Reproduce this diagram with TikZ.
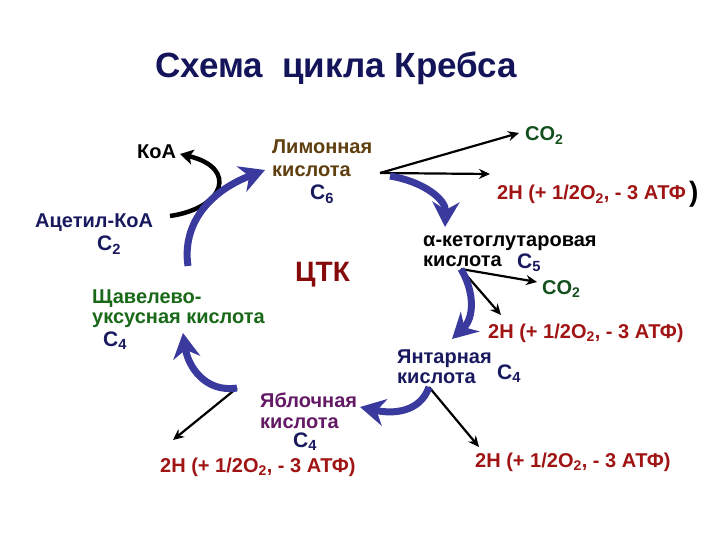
\documentclass[tikz,border=0pt]{standalone}
\usepackage{fontspec}
\setmainfont{Liberation Sans}
\usetikzlibrary{arrows.meta}
\definecolor{titlec}{RGB}{20,20,90}
\definecolor{navyc}{RGB}{25,25,95}
\definecolor{brownc}{RGB}{95,62,15}
\definecolor{greenc}{RGB}{25,105,25}
\definecolor{co2c}{RGB}{20,80,30}
\definecolor{redc}{RGB}{160,20,20}
\definecolor{ctkc}{RGB}{135,10,10}
\definecolor{purplec}{RGB}{100,25,100}
\definecolor{bluec}{RGB}{58,58,158}
\begin{document}
\begin{tikzpicture}[x=1pt,y=-1pt,
  lbl/.style={inner sep=0pt, anchor=base west, font=\bfseries\fontsize{20}{24}\selectfont},
  cl/.style={lbl, text=navyc, font=\bfseries\fontsize{21}{24}\selectfont},
  hh/.style={lbl, text=redc},
  blk/.style={draw=black, line width=2.2pt, -{Stealth[length=11pt,width=10pt]}},
  blkthick/.style={draw=black, line width=4.5pt, -{Stealth[length=13pt,width=15pt,inset=3pt]}},
  cyc/.style={draw=bluec, line width=7pt, -{Stealth[length=25pt,width=27pt,inset=8pt]}}]
\useasboundingbox (0,0) rectangle (720,540);
\fill[white] (0,0) rectangle (720,540);
% title
\node[lbl, text=titlec, font=\bfseries\fontsize{35}{40}\selectfont] (title) at (155,78) {Схема\ \ цикла Кребса};
% left
\node[lbl, text=black] (koa) at (137,159) {КоА};
\node[lbl, text=brownc] (lim1) at (272,154) {Лимонная};
\node[lbl, text=brownc] (lim2) at (272,177) {кислота};
\node[cl] (c6) at (310,200) {C\textsubscript{6}};
\node[lbl, text=navyc] (acet) at (35,228) {Ацетил-КоА};
\node[cl] (c2) at (97,251) {C\textsubscript{2}};
\node[lbl, text=ctkc, font=\bfseries\fontsize{28}{30}\selectfont] (ctk) at (295,281) {ЦТК};
\node[lbl, text=greenc] (sh1) at (92,303) {Щавелево-};
\node[lbl, text=greenc] (sh2) at (92,323) {уксусная кислота};
\node[cl] (c4a) at (103,346) {C\textsubscript{4}};
% right
\node[lbl, text=co2c] (co2a) at (525,141) {CO\textsubscript{2}};
\node[hh] (hA) at (497,200) {2H (+ 1/2O\textsubscript{2}, - 3 АТФ};
\node[lbl, text=black, font=\bfseries\fontsize{28}{30}\selectfont] (par) at (689,202) {)};
\node[lbl, text=black] (kg1) at (423,246) {α-кетоглутаровая};
\node[lbl, text=black] (kg2) at (423,266) {кислота};
\node[cl] (c5) at (517,268) {C\textsubscript{5}};
\node[lbl, text=co2c] (co2b) at (542,294) {CO\textsubscript{2}};
\node[hh] (hB) at (488,338) {2H (+ 1/2O\textsubscript{2}, - 3 АТФ)};
\node[lbl, text=navyc] (ya1) at (397,363) {Янтарная};
\node[lbl, text=navyc] (ya2) at (397,383) {кислота};
\node[cl] (c4b) at (497,379) {C\textsubscript{4}};
% bottom
\node[lbl, text=purplec] (yb1) at (260,407) {Яблочная};
\node[lbl, text=purplec] (yb2) at (260,428) {кислота};
\node[cl] (c4c) at (293,447) {C\textsubscript{4}};
\node[hh] (hC) at (160,472) {2H (+ 1/2O\textsubscript{2}, - 3 АТФ)};
\node[hh] (hD) at (475,467) {2H (+ 1/2O\textsubscript{2}, - 3 АТФ)};
% coordinates
\coordinate (acS) at (170,216);
\coordinate (koaT) at (180,154);
\coordinate (shS) at (188,266);
\coordinate (limT) at (265,170);
\coordinate (limS) at (380,173);
\coordinate (co2aT) at (519,133);
\coordinate (hAT) at (490,174);
\coordinate (limB) at (390,176);
\coordinate (kgT) at (445,227);
\coordinate (kgS) at (461,269);
\coordinate (co2bT) at (537,282);
\coordinate (hBT) at (501,315);
\coordinate (yaT) at (452,339);
\coordinate (yaS) at (429,387);
\coordinate (hDT) at (479,447);
\coordinate (ybT) at (360,407);
\coordinate (shE) at (237,388);
\coordinate (hCT) at (173,440);
\coordinate (shT) at (183,333);
% black arrows
\draw[blkthick] (acS) .. controls (225,208) and (238,168) .. (koaT);
\draw[blk] (limS) -- (co2aT);
\draw[blk] (limS) -- (hAT);
\draw[blk] (kgS) -- (co2bT);
\draw[blk] (kgS) -- (hBT);
\draw[blk] (yaS) -- (hDT);
\draw[blk] (shE) -- (hCT);
% blue cycle arrows
\draw[cyc] (shS) .. controls (182,225) and (208,192) .. (limT);
\draw[cyc] (limB) .. controls (425,182) and (446,200) .. (kgT);
\draw[cyc] (kgS) .. controls (475,293) and (474,318) .. (yaT);
\draw[cyc] (yaS) .. controls (420,413) and (392,414) .. (ybT);
\draw[cyc] (shE) .. controls (205,393) and (188,366) .. (shT);
\end{tikzpicture}
\end{document}
